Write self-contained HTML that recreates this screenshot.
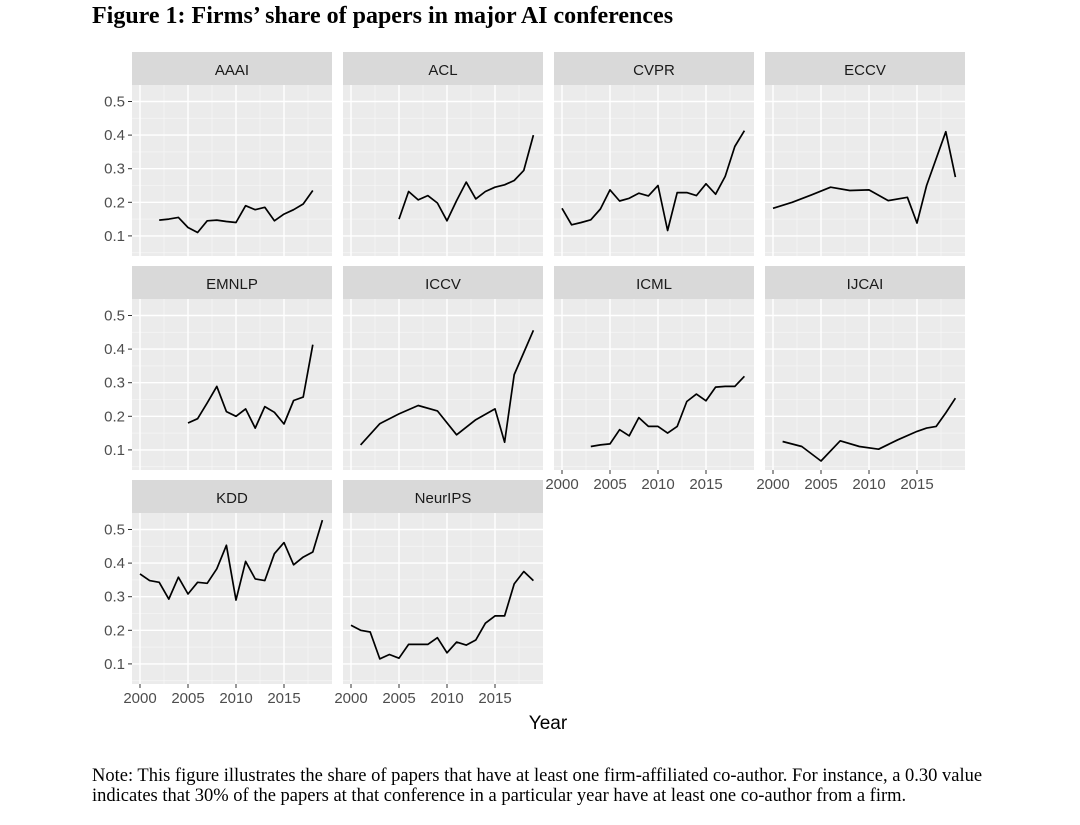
<!DOCTYPE html>
<html><head><meta charset="utf-8"><style>
html,body{margin:0;padding:0;background:#fff;}
body{width:1080px;height:825px;position:relative;overflow:hidden;}
.title{position:absolute;left:92px;top:3px;font:bold 24px "Liberation Serif",serif;color:#000;}
.note{position:absolute;left:92px;top:766px;font:18.5px/20px "Liberation Serif",serif;color:#000;width:980px;white-space:nowrap;}
svg{position:absolute;left:0;top:0;}
</style></head><body>
<div class="title">Figure 1: Firms’ share of papers in major AI conferences</div>
<svg id="chart" width="1080" height="825"></svg>
<div class="note">Note: This figure illustrates the share of papers that have at least one firm-affiliated co-author. For instance, a 0.30 value<br>indicates that 30% of the papers at that conference in a particular year have at least one co-author from a firm.</div>
<script>
const conferences = ["AAAI","ACL","CVPR","ECCV","EMNLP","ICCV","ICML","IJCAI","KDD","NeurIPS"];
const yTicks = [0.1,0.2,0.3,0.4,0.5];
const yTickLabels = ["0.1","0.2","0.3","0.4","0.5"];
const xTicks = [2000,2005,2010,2015];
const aaaiYears = [2002,2003,2004,2005,2006,2007,2008,2009,2010,2011,2012,2013,2014,2015,2016,2017,2018];
const aaaiVals = [.147,.150,.155,.125,.11,.145,.147,.143,.14,.19,.178,.185,.145,.165,.178,.195,.235];
const aclYears = [2005,2006,2007,2008,2009,2010,2011,2012,2013,2014,2015,2016,2017,2018,2019];
const aclVals = [.15,.232,.207,.22,.198,.145,.205,.26,.21,.232,.245,.252,.265,.295,.40];
const cvprYears = [2000,2001,2002,2003,2004,2005,2006,2007,2008,2009,2010,2011,2012,2013,2014,2015,2016,2017,2018,2019];
const cvprVals = [.182,.133,.14,.148,.18,.237,.204,.212,.227,.219,.25,.116,.229,.229,.22,.255,.224,.277,.366,.413];
const eccvYears = [2000,2002,2004,2006,2008,2010,2012,2014,2015,2016,2018,2019];
const eccvVals = [.182,.2,.222,.245,.235,.237,.205,.215,.138,.25,.41,.275];
const emnlpYears = [2005,2006,2007,2008,2009,2010,2011,2012,2013,2014,2015,2016,2017,2018];
const emnlpVals = [.18,.193,.24,.289,.214,.2,.222,.165,.229,.212,.177,.247,.257,.413];
const iccvYears = [2001,2003,2005,2007,2009,2011,2013,2015,2016,2017,2018,2019];
const iccvVals = [.115,.178,.207,.232,.216,.145,.19,.222,.123,.324,.39,.456];
const icmlYears = [2003,2004,2005,2006,2007,2008,2009,2010,2011,2012,2013,2014,2015,2016,2017,2018,2019];
const icmlVals = [.11,.115,.118,.16,.142,.196,.17,.17,.15,.17,.244,.266,.246,.287,.289,.289,.319];
const ijcaiYears = [2001,2003,2005,2007,2009,2011,2013,2015,2016,2017,2018,2019];
const ijcaiVals = [.125,.11,.067,.127,.11,.102,.13,.155,.165,.17,.21,.254];
const kddYears = [2000,2001,2002,2003,2004,2005,2006,2007,2008,2009,2010,2011,2012,2013,2014,2015,2016,2017,2018,2019];
const kddVals = [.368,.348,.343,.293,.358,.308,.343,.34,.383,.453,.29,.405,.353,.348,.428,.461,.395,.418,.433,.528];
const neuripsYears = [2000,2001,2002,2003,2004,2005,2006,2007,2008,2009,2010,2011,2012,2013,2014,2015,2016,2017,2018,2019];
const neuripsVals = [.215,.2,.195,.115,.128,.117,.158,.158,.158,.178,.133,.165,.156,.171,.221,.243,.243,.338,.375,.348];

const seriesYears=[aaaiYears,aclYears,cvprYears,eccvYears,emnlpYears,iccvYears,icmlYears,ijcaiYears,kddYears,neuripsYears];
const seriesVals=[aaaiVals,aclVals,cvprVals,eccvVals,emnlpVals,iccvVals,icmlVals,ijcaiVals,kddVals,neuripsVals];

const NS="http://www.w3.org/2000/svg";
const svg=document.getElementById('chart');
const colLeft=[132,343,554,765], rowTop=[52,266,480];
const PW=200, SH=33, PH=171;
function mk(tag,attrs,parent){const e=document.createElementNS(NS,tag);for(const k in attrs)e.setAttribute(k,attrs[k]);(parent||svg).appendChild(e);return e;}
function xScale(c,yr){return colLeft[c]+8+(yr-2000)*9.6;}
function yScale(r,v){return rowTop[r]+49.5+(0.5-v)*336;}

conferences.forEach((name,i)=>{
  const c=i%4, r=Math.floor(i/4);
  const L=colLeft[c], T=rowTop[r];
  const g=mk('g',{});
  
  
  const strip=mk('rect',{x:L,y:T,width:PW,height:SH,fill:'#d9d9d9'},g);
  
  
  const st=mk('text',{x:L+PW/2,y:T+23,'text-anchor':'middle','font-family':'Liberation Sans, sans-serif','font-size':'15',fill:'#1a1a1a'},g);
  st.textContent=name;
  
  
  const bg=mk('rect',{x:L,y:T+SH,width:PW,height:PH,fill:'#ebebeb'},g);
  
  
  const top=T+SH, bot=T+SH+PH;
  for(let k=0;k<4;k++){const v=yTicks[k]+0.05;const yy=yScale(r,v);mk('line',{x1:L,x2:L+PW,y1:yy,y2:yy,stroke:'#f5f5f5','stroke-width':0.8},g);}
  mk('line',{x1:L,x2:L+PW,y1:yScale(r,0.05),y2:yScale(r,0.05),stroke:'#f5f5f5','stroke-width':0.8},g);
  xTicks.forEach(t=>{const xx=xScale(c,t+2.5);mk('line',{x1:xx,x2:xx,y1:top,y2:bot,stroke:'#f5f5f5','stroke-width':0.8},g);});
  yTicks.forEach(v=>{const yy=yScale(r,v);mk('line',{x1:L,x2:L+PW,y1:yy,y2:yy,stroke:'#fff','stroke-width':1.4},g);});
  xTicks.forEach(t=>{const xx=xScale(c,t);mk('line',{x1:xx,x2:xx,y1:top,y2:bot,stroke:'#fff','stroke-width':1.4},g);});
  const ys=seriesYears[i], vs=seriesVals[i];
  const d=ys.map((yr,k)=>(k?'L':'M')+xScale(c,yr).toFixed(1)+','+yScale(r,vs[k]).toFixed(1)).join(' ');
  const p=mk('path',{d:d,fill:'none',stroke:'#000','stroke-width':1.7,'stroke-linejoin':'round'},g);
  
  
  if(c===0){
    yTicks.forEach((v,k)=>{const yy=yScale(r,v);
      mk('line',{x1:L-4,x2:L,y1:yy,y2:yy,stroke:'#333','stroke-width':1},g);
      const t=mk('text',{x:L-7,y:yy+5,'text-anchor':'end','font-family':'Liberation Sans, sans-serif','font-size':'15',fill:'#4d4d4d'},g);
      t.textContent=yTickLabels[k];
      
      
    });
  }
  if(i>=6){
    xTicks.forEach(tk=>{const xx=xScale(c,tk);
      mk('line',{x1:xx,x2:xx,y1:bot,y2:bot+4,stroke:'#333','stroke-width':1},g);
      const t=mk('text',{x:xx,y:bot+19,'text-anchor':'middle','font-family':'Liberation Sans, sans-serif','font-size':'15',fill:'#4d4d4d'},g);
      t.textContent=String(tk);
      
      
    });
  }
});
const xt=mk('text',{x:548,y:729,'text-anchor':'middle','font-family':'Liberation Sans, sans-serif','font-size':'19',fill:'#000'});
xt.textContent='Year';


</script>
</body></html>
